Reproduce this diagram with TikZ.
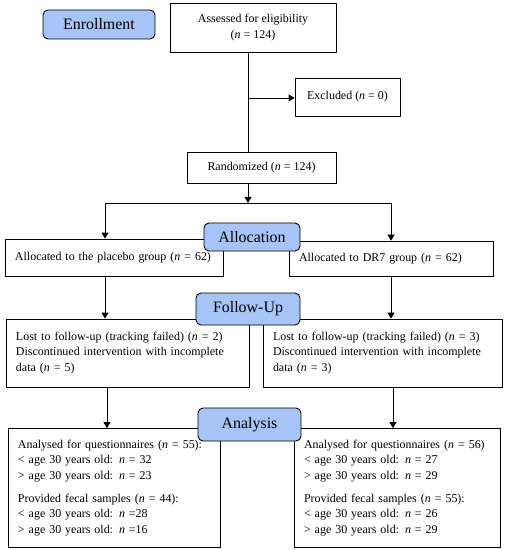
\documentclass[tikz,border=0pt]{standalone}
\usepackage{fontspec}
\setmainfont{Liberation Serif}
\usetikzlibrary{arrows.meta}
\definecolor{labblue}{HTML}{A6C4F5}
\begin{document}
\begin{tikzpicture}[x=1bp,y=-1bp,
  box/.style={draw, line width=0.8bp, rectangle, inner sep=0pt, font=\fontsize{12}{15.7}\selectfont},
  lbox/.style={box, align=left, inner xsep=10bp},
  stage/.style={draw, line width=0.9bp, rounded corners=5bp, fill=labblue, inner sep=0pt, font=\fontsize{16}{18}\selectfont},
  arr/.style={line width=0.8bp, -{Triangle[length=6bp,width=7bp]}},
  ln/.style={line width=0.8bp}]
\useasboundingbox (0,0) rectangle (507,550);
% boxes
\node[box, minimum width=166bp, minimum height=49bp, align=center] (assess) at (253,27.5) {Assessed for eligibility\\(\textit{n} = 124)};
\node[box, minimum width=105bp, minimum height=38bp] (excl) at (347.5,97) {Excluded (\textit{n} = 0)};
\node[box, minimum width=149bp, minimum height=31bp] (rand) at (261.5,167.5) {Randomized (\textit{n} = 124)};
\node[lbox, minimum width=218bp, minimum height=37bp, text width=198bp] (plac) at (114,257.5) {Allocated to the placebo group (\textit{n} = 62)};
\node[lbox, minimum width=204bp, minimum height=35bp, text width=184bp] (dr7) at (391,258.5) {Allocated to DR7 group (\textit{n} = 62)};
\node[lbox, minimum width=243bp, minimum height=68bp, text width=223bp] (lostl) at (127.5,353) {Lost to follow-up (tracking failed) (\textit{n} = 2)\\Discontinued intervention with incomplete\\data (\textit{n} = 5)};
\node[lbox, minimum width=239bp, minimum height=68bp, text width=219bp] (lostr) at (382.5,353) {Lost to follow-up (tracking failed) (\textit{n} = 3)\\Discontinued intervention with incomplete\\data (\textit{n} = 3)};
\node[lbox, minimum width=212bp, minimum height=119bp, text width=192bp] (anl) at (114,488) {Analysed for questionnaires (\textit{n} = 55):\\< age 30 years old: \textit{n} = 32\\> age 30 years old: \textit{n} = 23\\[7bp]Provided fecal samples (\textit{n} = 44):\\< age 30 years old: \textit{n} =28\\> age 30 years old: \textit{n} =16};
\node[lbox, minimum width=206bp, minimum height=119bp, text width=186bp] (anr) at (397,488) {Analysed for questionnaires (\textit{n} = 56)\\< age 30 years old: \textit{n} = 27\\> age 30 years old: \textit{n} = 29\\[7bp]Provided fecal samples (\textit{n} = 55):\\< age 30 years old: \textit{n} = 26\\> age 30 years old: \textit{n} = 29};
% connectors
\coordinate (j1) at (248,98);
\coordinate (j2) at (248,203);
\coordinate (jl) at (105,203);
\coordinate (jr) at (391,203);
\draw[ln] (assess.south -| j1) -- (rand.north -| j1);
\draw[arr] (j1) -- (excl.west |- j1);
\draw[arr] (rand.south -| j2) -- (j2);
\draw[ln] (jl) -- (jr);
\draw[arr] (jl) -- (plac.north -| jl);
\draw[arr] (jr) -- (dr7.north -| jr);
\draw[arr] (plac.south -| jl) -- (lostl.north -| jl);
\draw[arr] (dr7.south -| jr) -- (lostr.north -| jr);
\coordinate (kl) at (107,0);
\coordinate (kr) at (393,0);
\draw[arr] (lostl.south -| kl) -- (anl.north -| kl);
\draw[arr] (lostr.south -| kr) -- (anr.north -| kr);
% stage labels
\node[stage, minimum width=112bp, minimum height=29bp] (enr) at (99,24.5) {Enrollment};
\node[stage, minimum width=96bp, minimum height=28bp] (alloc) at (252,237) {Allocation};
\node[stage, minimum width=104bp, minimum height=32bp] (fol) at (248,309) {Follow-Up};
\node[stage, minimum width=103bp, minimum height=33bp] (ana) at (249.5,424.5) {Analysis};
\end{tikzpicture}
\end{document}
